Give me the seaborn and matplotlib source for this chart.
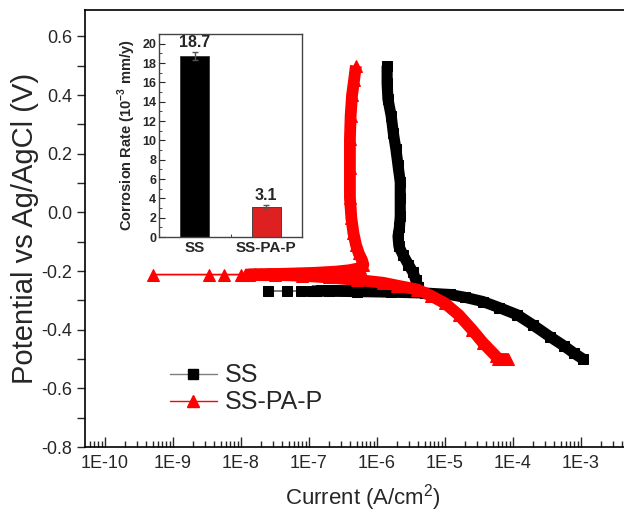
import numpy as np
import pandas as pd
import seaborn as sns
import matplotlib.pyplot as plt
from matplotlib.lines import Line2D
from matplotlib.ticker import LogLocator, FixedLocator, MultipleLocator, NullFormatter

# ---- Tafel data (current in A/cm2, potential in V) ----
# SS: cathodic branch (dense part, -0.5 V up to Ecorr)
ss_cath_i = [1.07e-3, 7.9e-4, 5.6e-4, 3.5e-4, 2.0e-4, 1.15e-4, 6.3e-5, 3.6e-5,
             2.0e-5, 1.17e-5, 5.0e-6, 1.6e-6, 5.0e-7, 2.0e-7, 1.1e-7]
ss_cath_e = [-0.500, -0.480, -0.455, -0.424, -0.385, -0.349, -0.325, -0.304,
             -0.290, -0.280, -0.275, -0.272, -0.270, -0.269, -0.268]
# SS: sparse points around Ecorr
ss_tail_i = [7.6e-8, 4.8e-8, 2.5e-8]
ss_tail_e = [-0.268, -0.268, -0.268]
# SS: anodic branch
ss_anod_i = [1.26e-7, 3.2e-7, 1.0e-6, 2.5e-6, 3.5e-6, 4.0e-6, 3.7e-6, 3.4e-6,
             2.9e-6, 2.4e-6, 2.1e-6, 2.04e-6, 2.14e-6, 2.2e-6, 2.2e-6, 2.2e-6,
             2.04e-6, 1.9e-6, 1.74e-6, 1.62e-6, 1.45e-6, 1.41e-6, 1.41e-6]
ss_anod_e = [-0.267, -0.266, -0.264, -0.262, -0.258, -0.253, -0.229, -0.205,
             -0.178, -0.144, -0.116, -0.082, -0.050, -0.014, 0.050, 0.103,
             0.160, 0.215, 0.270, 0.328, 0.386, 0.440, 0.500]

# SS-PA-P: cathodic branch
pa_cath_i = [8.5e-5, 6.0e-5, 5.6e-5, 3.6e-5, 2.5e-5, 1.6e-5, 1.0e-5, 6.3e-6,
             3.9e-6, 2.0e-6, 1.23e-6, 5.0e-7, 2.0e-7, 7.9e-8, 3.2e-8, 1.15e-8]
pa_cath_e = [-0.500, -0.500, -0.490, -0.444, -0.400, -0.350, -0.310, -0.285,
             -0.263, -0.250, -0.240, -0.230, -0.222, -0.216, -0.213, -0.212]
# SS-PA-P: sparse points around Ecorr
pa_tail_i = [1.0e-8, 5.6e-9, 3.4e-9, 5.1e-10]
pa_tail_e = [-0.212, -0.212, -0.212, -0.212]
# SS-PA-P: anodic branch
pa_anod_i = [1.3e-8, 1.6e-8, 2.0e-8, 2.6e-8, 3.4e-8, 5.0e-8, 1.26e-7, 2.5e-7,
             4.0e-7, 5.6e-7, 6.3e-7, 6.0e-7, 5.4e-7, 4.9e-7, 4.5e-7, 4.2e-7,
             4.0e-7, 4.0e-7, 4.0e-7, 4.1e-7, 4.3e-7, 4.6e-7, 4.9e-7]
pa_anod_e = [-0.212, -0.211, -0.211, -0.210, -0.210, -0.209, -0.206, -0.202,
             -0.197, -0.190, -0.178, -0.162, -0.140, -0.110, -0.070, -0.020,
             0.050, 0.150, 0.250, 0.330, 0.400, 0.450, 0.500]

# axis ticks
x_ticks = [1e-10, 1e-9, 1e-8, 1e-7, 1e-6, 1e-5, 1e-4, 1e-3]
x_ticklabels = ["1E-10", "1E-9", "1E-8", "1E-7", "1E-6", "1E-5", "1E-4", "1E-3"]
y_ticks = [-0.8, -0.6, -0.4, -0.2, 0.0, 0.2, 0.4, 0.6]
y_ticklabels = ["-0.8", "-0.6", "-0.4", "-0.2", "0.0", "0.2", "0.4", "0.6"]

# inset: corrosion rate
samples = ["SS", "SS-PA-P"]
rates = [18.7, 3.1]
rate_err = [0.4, 0.2]
rate_ticks = [0, 2, 4, 6, 8, 10, 12, 14, 16, 18, 20]

# ---------------------------------------------------------------------------
sns.set_style("ticks")
plt.rcParams['font.family'] = ['Liberation Sans', 'DejaVu Sans']
plt.rcParams['mathtext.fontset'] = 'custom'
plt.rcParams['mathtext.rm'] = 'Liberation Sans'
plt.rcParams['mathtext.bf'] = 'Liberation Sans:bold'

fig = plt.figure(figsize=(6.24, 5.15), dpi=100)
W, H = 624, 515
ax = fig.add_axes([85 / W, (H - 447) / H, 555 / W, 437 / H])
ax.set_xscale('log')

series = [
    ("SS", ss_cath_i, ss_cath_e, ss_tail_i, ss_tail_e, ss_anod_i, ss_anod_e,
     'black', '#7f7f7f', 's', 6.5, 8, 2.5),
    ("SS-PA-P", pa_cath_i, pa_cath_e, pa_tail_i, pa_tail_e, pa_anod_i, pa_anod_e,
     'red', 'red', '^', 8, 8.5, 4),
]
for name, ci, ce, ti, te, ai, ae, col, lcol, mk, ms, bw, mz in series:
    full_i = ci + ti + ai
    full_e = ce + te + ae
    # thin connecting line
    sns.lineplot(x=full_i, y=full_e, sort=False, estimator=None, ax=ax,
                 color=lcol, lw=1, zorder=2)
    # thick band made by the densely packed markers
    for bi, be in [(ci, ce), (ai, ae)]:
        sns.lineplot(x=bi, y=be, sort=False, estimator=None, ax=ax, color=col,
                     lw=bw, solid_capstyle='butt', solid_joinstyle='round',
                     zorder=3)
    # the markers themselves
    sns.lineplot(x=full_i, y=full_e, sort=False, estimator=None, ax=ax,
                 color=col, lw=0, marker=mk, markersize=ms,
                 markerfacecolor=col, markeredgecolor=col, zorder=mz)

ax.set_xlim(10 ** -10.294, 10 ** -2.132)
ax.set_ylim(-0.8, 0.69)
ax.xaxis.set_major_locator(FixedLocator(x_ticks))
ax.set_xticklabels(x_ticklabels)
ax.xaxis.set_minor_locator(LogLocator(base=10, subs=np.arange(2, 10), numticks=20))
ax.xaxis.set_minor_formatter(NullFormatter())
ax.set_yticks(y_ticks)
ax.set_yticklabels(y_ticklabels)
ax.yaxis.set_minor_locator(MultipleLocator(0.1))
ax.tick_params(axis='x', which='major', direction='in', length=7, width=1,
               labelsize=13, pad=6)
ax.tick_params(axis='x', which='minor', direction='in', length=4, width=1)
ax.tick_params(axis='y', which='major', direction='out', length=6, width=1,
               labelsize=13, pad=3)
ax.tick_params(axis='y', which='minor', direction='out', length=6, width=1)
for s in ax.spines.values():
    s.set_linewidth(1.2)
    s.set_color('black')
ax.spines['right'].set_visible(False)

ax.set_xlabel("Current (A/cm$^2$)", fontsize=16, labelpad=7)
ax.set_ylabel("Potential vs Ag/AgCl (V)", fontsize=21, labelpad=2)

handles = [Line2D([], [], color='#7f7f7f', lw=1, marker='s', markersize=7,
                  markerfacecolor='black', markeredgecolor='black'),
           Line2D([], [], color='red', lw=1, marker='^', markersize=9,
                  markerfacecolor='red', markeredgecolor='red')]
ax.legend(handles, samples, loc='upper left', bbox_to_anchor=(0.112, 0.243),
          frameon=False, fontsize=18, handlelength=1.9, handletextpad=0.3,
          labelspacing=0.12)

# ---- inset bar chart ----
ins = fig.add_axes([159 / W, (H - 237) / H, 143 / W, 203 / H])
df_rate = pd.DataFrame({"sample": samples, "rate": rates})
sns.barplot(data=df_rate, x="sample", y="rate", hue="sample",
            palette=['black', 'red'], legend=False, width=0.4, ax=ins,
            edgecolor='#333333', linewidth=0.6)
ins.errorbar(x=[0, 1], y=rates, yerr=rate_err, fmt='none', ecolor='#555555',
             elinewidth=1, capsize=2, capthick=1)
for k, (r, e) in enumerate(zip(rates, rate_err)):
    ins.text(k, r + e + 0.2, "%.1f" % r, ha='center', va='bottom',
             fontsize=11.5, fontweight='bold')
ins.set_xlim(-0.5, 1.5)
ins.set_ylim(0, 21)
ins.set_yticks(rate_ticks)
ins.yaxis.set_minor_locator(MultipleLocator(1))
ins.xaxis.set_minor_locator(FixedLocator([0.5]))
ins.tick_params(axis='y', which='both', direction='in', labelsize=9, pad=2)
ins.tick_params(axis='y', which='major', length=4)
ins.tick_params(axis='y', which='minor', length=2)
ins.tick_params(axis='x', which='major', length=0, labelsize=11, pad=3)
ins.tick_params(axis='x', which='minor', direction='in', length=2)
for lab in ins.get_xticklabels() + ins.get_yticklabels():
    lab.set_fontweight('bold')
ins.set_xlabel("")
ins.set_ylabel("Corrosion Rate (10$^{\\mathbf{-3}}$ mm/y)", fontsize=10.5,
               fontweight='bold', labelpad=3)
for s in ins.spines.values():
    s.set_visible(True)
    s.set_color('#444444')
    s.set_linewidth(1)

fig.savefig("out.png", dpi=100)
